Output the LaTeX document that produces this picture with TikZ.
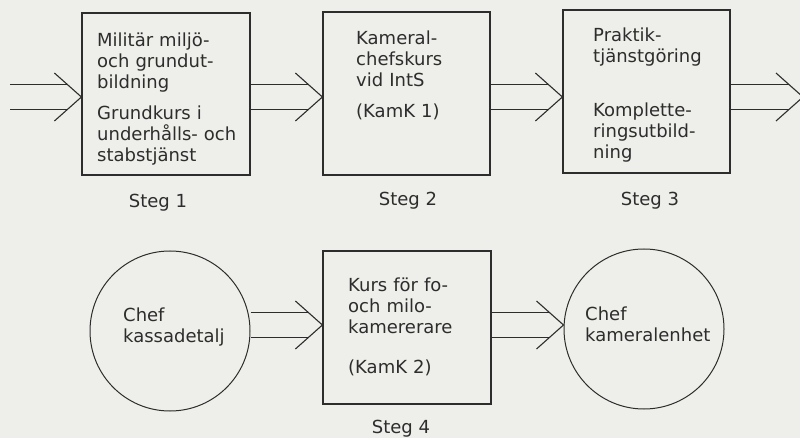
\documentclass[tikz,border=0pt]{standalone}
\usepackage{fontspec}
\setmainfont{DejaVu Sans}
\usetikzlibrary{calc}
\definecolor{paper}{RGB}{238,238,234}
\definecolor{ink}{RGB}{45,45,45}

\begin{document}
\begin{tikzpicture}[x=1pt, y=-1pt]

\tikzset{stepbox/.style = {shape=rectangle, draw=ink, line width=1.2pt, inner sep=0pt}}
\tikzset{post/.style = {shape=circle, draw=ink, line width=1pt, inner sep=0pt, minimum size=160pt}}
\tikzset{txt/.style = {anchor=north west, inner sep=0pt, text width=170pt, align=left, text=ink, font=\fontsize{18}{21}\selectfont}}
\tikzset{steg/.style = {anchor=base, inner sep=0pt, text=ink, font=\fontsize{18}{21}\selectfont}}
\tikzset{pipe/.style = {draw=ink, line width=1.1pt, line join=miter}}

\fill[paper] (0,0) rectangle (800,438);
\useasboundingbox (0,0) rectangle (800,438);

%steps
\node[stepbox, minimum width=168pt, minimum height=162pt] (s1) at (166,94) {};
\node[stepbox, minimum width=167pt, minimum height=163pt] (s2) at (406.5,93.5) {};
\node[stepbox, minimum width=167pt, minimum height=163pt] (s3) at (646.5,91.5) {};
\node[stepbox, minimum width=168pt, minimum height=153pt] (s4) at (407,327.5) {};
\node[post] (c1) at (170,331) {};
\node[post] (c2) at (644,329) {};
%texts
\node[txt] (t1) at (97,32) {\strut Militär miljö-\\och grundut-\\bildning\\[10pt]Grundkurs i\\underhålls- och\\stabstjänst};
\node[txt] (t2) at (356,30) {\strut Kameral-\\chefskurs\\vid IntS\\[10pt](KamK 1)};
\node[txt] (t3) at (593,27) {\strut Praktik-\\tjänstgöring\\[33pt]Komplette-\\ringsutbild-\\ning};
\node[txt] (t4) at (348,277) {\strut Kurs för fo-\\och milo-\\kamererare\\[19pt](KamK 2)};
\node[txt] (t5) at (123,307) {\strut Chef\\kassadetalj};
\node[txt] (t6) at (585,306) {\strut Chef\\kameralenhet};
%labels
\node[steg] (l1) at (158,208) {Steg 1};
\node[steg] (l2) at (408,206) {Steg 2};
\node[steg] (l3) at (650,206) {Steg 3};
\node[steg] (l4) at (401,433) {Steg 4};
%arrows
\coordinate (entry) at (10,97);
\coordinate (exit) at (803,97);
\foreach \a/\b/\y in {entry/s1.west/97, s1.east/s2.west/97, s2.east/s3.west/97, s3.east/exit/97, c1.east/s4.west/325, s4.east/c2.west/325}{
  \coordinate (p) at (\a |- 0,\y);
  \coordinate (q) at (\b |- 0,\y);
  \draw[pipe] ($(p)+(0,-12.5)$) -- ($(q)+(-14,-12.5)$);
  \draw[pipe] ($(p)+(0,12.5)$) -- ($(q)+(-14,12.5)$);
  \draw[pipe] ($(q)+(-27,-24)$) -- (q) -- ($(q)+(-27,24)$);
}

\end{tikzpicture}
\end{document}
